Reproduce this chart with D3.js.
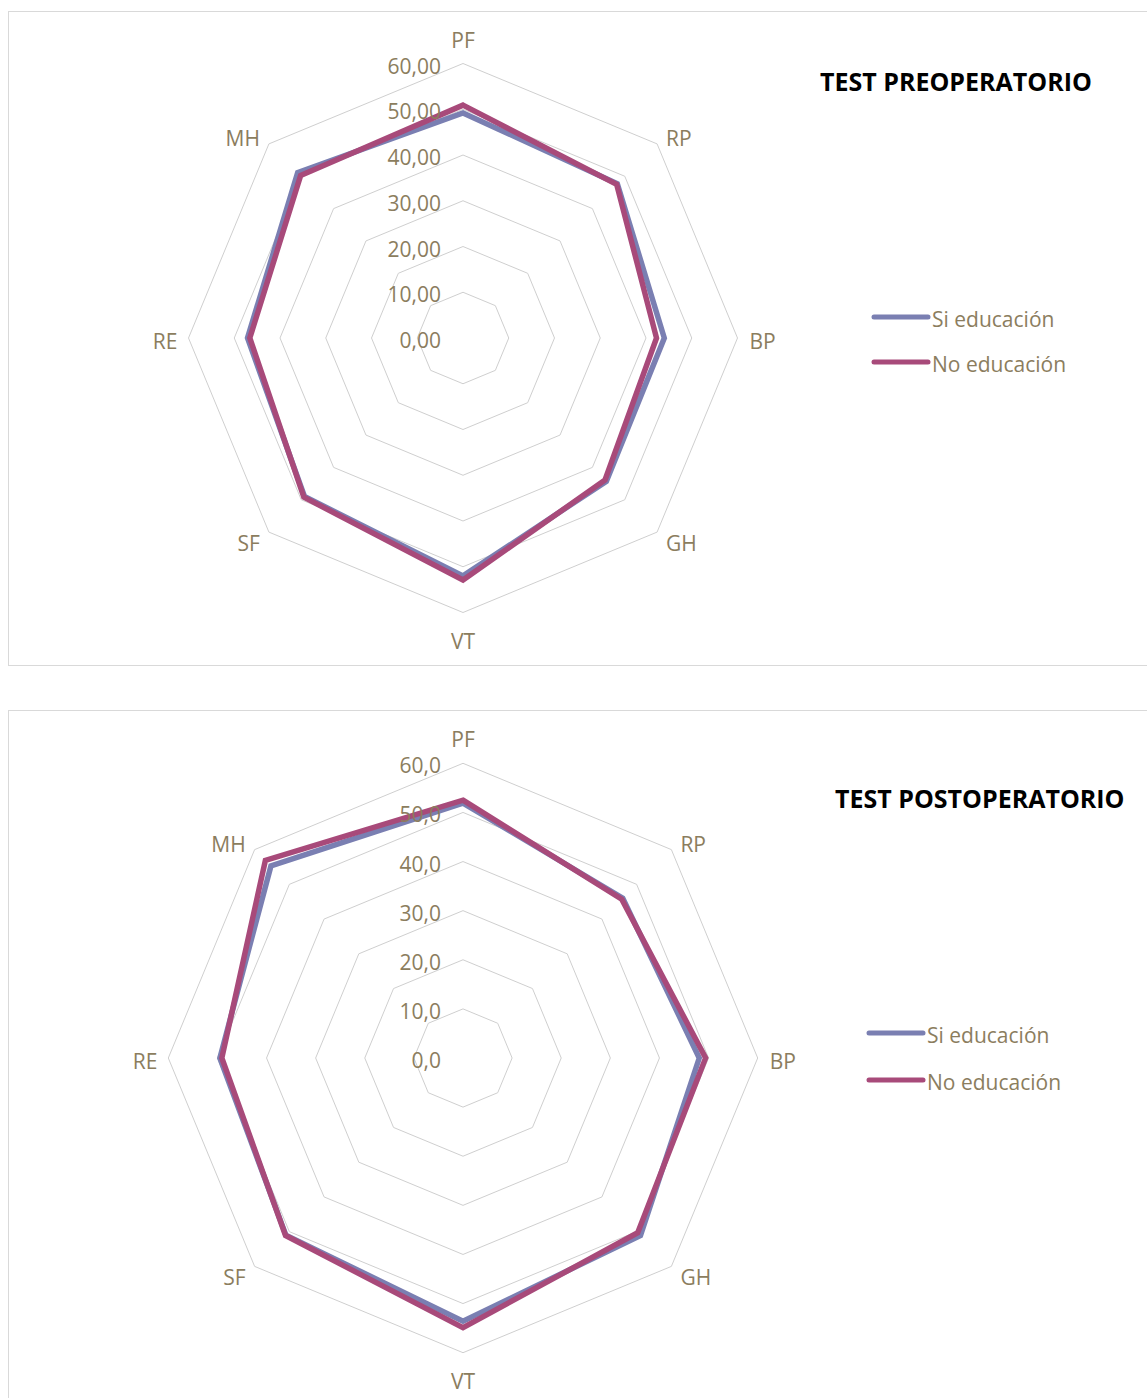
<!DOCTYPE html>
<html>
<head>
<meta charset="utf-8">
<script src="https://cdn.jsdelivr.net/npm/d3@7"></script>
<style>
  html, body { margin: 0; padding: 0; background: #fff; }
  svg { display: block; }
  text { font-family: "Open Sans", "Noto Sans", sans-serif; }
</style>
</head>
<body>
<svg id="chart" width="1147" height="1398"></svg>
<script>
// ---- data ----
const categories = ["PF", "RP", "BP", "GH", "VT", "SF", "RE", "MH"];
const seriesNames = ["Si educación", "No educación"];
const seriesColors = ["#7a7fb2", "#a84a7a"];

const preSi = [49.2, 47.7, 44.0, 44.3, 52.0, 49.0, 47.1, 51.1];
const preNo = [50.9, 47.5, 42.3, 43.9, 52.9, 49.2, 46.6, 50.2];
const postSi = [51.9, 46.0, 48.1, 51.1, 53.6, 51.0, 49.5, 55.3];
const postNo = [52.5, 45.7, 49.4, 50.3, 54.9, 51.1, 49.1, 56.9];

const tickValues = [0, 10, 20, 30, 40, 50, 60];
const preTickLabels = ["0,00", "10,00", "20,00", "30,00", "40,00", "50,00", "60,00"];
const postTickLabels = ["0,0", "10,0", "20,0", "30,0", "40,0", "50,0", "60,0"];

const titles = ["TEST PREOPERATORIO", "TEST POSTOPERATORIO"];

// ---- layout ----
const svg = d3.select("#chart");
const labelColor = "#8b7d5e";

const panels = [
  { box: [8.5, 11.5, 1160, 654], cx: 463, cy: 338, R: 274.5, series: [preSi, preNo], ticks: preTickLabels,
    title: titles[0], titleX: 820, titleY: 81, titleSize: 25, legX: 874, legY: 317, legGap: 45 },
  { box: [8.5, 710.5, 1160, 720], cx: 463, cy: 1058, R: 294.7, series: [postSi, postNo], ticks: postTickLabels,
    title: titles[1], titleX: 835, titleY: 798, titleSize: 25, legX: 869, legY: 1033, legGap: 47 }
];

const n = categories.length;
const angleOf = i => (i * 2 * Math.PI) / n;

panels.forEach(p => {
  const g = svg.append("g");
  g.append("rect")
    .attr("x", p.box[0]).attr("y", p.box[1])
    .attr("width", p.box[2]).attr("height", p.box[3])
    .attr("fill", "none").attr("stroke", "#d9d9d9").attr("stroke-width", 1);

  const r = d3.scaleLinear().domain([0, 60]).range([0, p.R]);
  const chart = g.append("g").attr("transform", `translate(${p.cx},${p.cy})`);

  // grid octagons
  const ring = d3.lineRadial().angle((d, i) => angleOf(i)).radius(d => r(d)).curve(d3.curveLinearClosed);
  tickValues.filter(v => v > 0).forEach(v => {
    chart.append("path")
      .attr("d", ring(categories.map(() => v)))
      .attr("fill", "none").attr("stroke", "#cfcfcf").attr("stroke-width", 1);
  });

  // series
  const line = d3.lineRadial().angle((d, i) => angleOf(i)).radius(d => r(d)).curve(d3.curveLinearClosed);
  p.series.forEach((vals, si) => {
    chart.append("path")
      .attr("d", line(vals))
      .attr("fill", "none")
      .attr("stroke", seriesColors[si])
      .attr("stroke-width", 5.5)
      .attr("stroke-linejoin", "miter");
  });

  // tick labels
  tickValues.forEach((v, i) => {
    chart.append("text")
      .attr("x", -22).attr("y", -r(v) + 2)
      .attr("text-anchor", "end").attr("dominant-baseline", "central")
      .attr("font-size", 21).attr("fill", labelColor)
      .text(p.ticks[i]);
  });

  // category labels
  categories.forEach((c, i) => {
    const a = angleOf(i);
    const vx = Math.sin(a) * p.R, vy = -Math.cos(a) * p.R;
    let x = vx, y = vy, anchor = "middle";
    const s = Math.round(Math.sin(a) * 1000) / 1000;
    const co = Math.round(Math.cos(a) * 1000) / 1000;
    if (s === 0) { y = co > 0 ? vy - 24 : vy + 28; }
    else if (co === 0) { x = vx + (s > 0 ? 12 : -11); anchor = s > 0 ? "start" : "end"; y = vy + 3; }
    else { x = vx + (s > 0 ? 9 : -9); anchor = s > 0 ? "start" : "end"; y = vy + (co > 0 ? -6 : 11); }
    chart.append("text")
      .attr("x", x).attr("y", y)
      .attr("text-anchor", anchor).attr("dominant-baseline", "central")
      .attr("font-size", 21).attr("fill", labelColor)
      .text(c);
  });

  // title
  g.append("text")
    .attr("x", p.titleX).attr("y", p.titleY)
    .attr("dominant-baseline", "central")
    .attr("font-size", p.titleSize).attr("font-weight", "bold").attr("fill", "#000")
    .text(p.title);

  // legend
  seriesNames.forEach((name, si) => {
    const y = p.legY + si * p.legGap;
    g.append("line")
      .attr("x1", p.legX).attr("x2", p.legX + 54)
      .attr("y1", y).attr("y2", y)
      .attr("stroke", seriesColors[si]).attr("stroke-width", 5).attr("stroke-linecap", "round");
    g.append("text")
      .attr("x", p.legX + 58).attr("y", y + 2)
      .attr("dominant-baseline", "central")
      .attr("font-size", 21).attr("fill", labelColor)
      .text(name);
  });
});
</script>
</body>
</html>
